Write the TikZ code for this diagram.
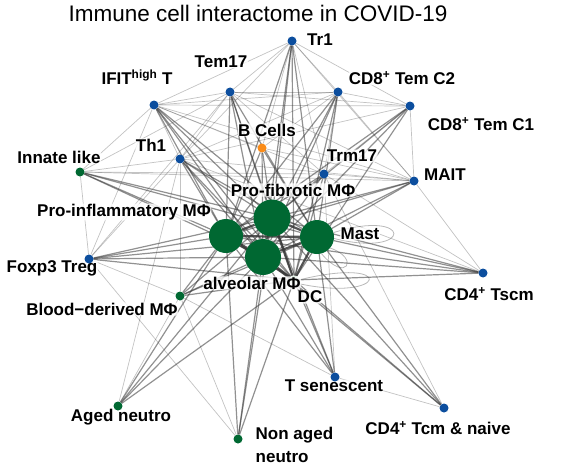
\documentclass[tikz,border=0pt]{standalone}
\usepackage{fontspec}
\setmainfont{Liberation Sans}
\usetikzlibrary{positioning, backgrounds}
\definecolor{nblue}{RGB}{12, 78, 158}
\definecolor{ngreen}{RGB}{0, 104, 50}
\definecolor{norange}{RGB}{250, 140, 25}
\definecolor{nfaint}{RGB}{200, 226, 205}
\definecolor{clink}{RGB}{55, 55, 55}
\tikzset{
  cell/.style={circle, inner sep=0pt, minimum size=9pt, fill=nblue},
  hub/.style={circle, inner sep=0pt, minimum size=34pt, fill=ngreen},
  lbl/.style={font=\bfseries\fontsize{17}{19}\selectfont, fill=white, fill opacity=.8,
              text opacity=1, inner sep=.5pt, rounded corners=3pt},
  strong/.style={draw=clink, line width=2.2pt, opacity=.85},
  mid/.style={draw=clink, line width=1.2pt, opacity=.55},
  weak/.style={draw=clink, line width=.7pt, opacity=.3},
  selfl/.style={draw=clink, line width=.8pt, opacity=.35},
}
\begin{document}
\begin{tikzpicture}[x=1pt, y=-1pt]
\useasboundingbox (0,0) rectangle (561,468);

\node[font=\fontsize{22.5}{24}\selectfont] (title) at (258,13) {Immune cell interactome in COVID-19};

% DC sits behind the labels
\node[cell, fill=nfaint] (dc) at (294,280) {};

% ---------- labels (under the dots) ----------
\node[lbl] (tri-l) at (320,40) {Tr1};
\node[lbl] (temsvt-l) at (221,62) {Tem17};
\node[lbl] (ifit-l) at (137,77) {IFIT\textsuperscript{high} T};
\node[lbl] (cdtwo-l) at (402,78) {CD8\textsuperscript{+} Tem C2};
\node[lbl] (cdone-l) at (481,124) {CD8\textsuperscript{+} Tem C1};
\node[lbl] (bcell-l) at (267,130) {B Cells};
\node[lbl] (thone-l) at (151,145) {Th1};
\node[lbl] (innate-l) at (59,157) {Innate like};
\node[lbl] (trm-l) at (352,156) {Trm17};
\node[lbl] (mait-l) at (445,175) {MAIT};
\node[lbl] (profib-l) at (293,190) {Pro-fibrotic MΦ};
\node[lbl] (proinf-l) at (124,212) {Pro-inflammatory MΦ};
\node[lbl] (mast-l) at (360,234) {Mast};
\node[lbl] (foxp-l) at (52,268) {Foxp3 Treg};
\node[lbl] (alv-l) at (252,283) {alveolar MΦ};
\node[lbl] (dc-l) at (310,297) {DC};
\node[lbl] (blood-l) at (102,309) {Blood\textminus derived MΦ};
\node[lbl] (tscm-l) at (489,294) {CD4\textsuperscript{+} Tscm};
\node[lbl] (tsen-l) at (334,386) {T senescent};
\node[lbl] (aged-l) at (121,417) {Aged neutro};
\node[lbl, align=left, anchor=west, font=\bfseries\fontsize{17}{23}\selectfont] (nonaged-l) at (255,445) {Non aged\\neutro};
\node[lbl] (tcm-l) at (438,428) {CD4\textsuperscript{+} Tcm \& naive};

% ---------- cells ----------
\node[cell] (tri) at (292,41) {};
\node[cell] (temsvt) at (230,92) {};
\node[cell] (ifit) at (154,105) {};
\node[cell] (cdtwo) at (338,92) {};
\node[cell] (cdone) at (410,106) {};
\node[cell, fill=norange] (bcell) at (262,148) {};
\node[cell] (thone) at (180,159) {};
\node[cell, fill=ngreen] (innate) at (80,172) {};
\node[cell] (trm) at (324,174) {};
\node[cell] (mait) at (414,181) {};
\node[cell] (foxp) at (89,259) {};
\node[cell, fill=ngreen] (blood) at (180,296) {};
\node[cell] (tscm) at (483,273) {};
\node[cell] (tsen) at (335,377) {};
\node[cell] (tcm) at (444,408) {};
\node[cell, fill=ngreen] (aged) at (118,406) {};
\node[cell, fill=ngreen] (nonaged) at (238,439) {};

% ---------- macrophage hubs ----------
\node[hub, minimum size=37pt] (profib) at (272,218) {};
\node[hub] (proinf) at (226,236) {};
\node[hub] (mast) at (317,237) {};
\node[hub, minimum size=36pt] (alv) at (263,257) {};

% ---------- interactions ----------
\begin{scope}[on background layer]
  \foreach \a/\b in {tri/ifit, tri/temsvt, tri/cdtwo, tri/cdone, tri/trm, tri/mait, tri/bcell, tri/thone,
      temsvt/ifit, temsvt/cdtwo, temsvt/cdone, temsvt/mait, temsvt/thone, temsvt/trm,
      ifit/cdtwo, ifit/cdone, ifit/thone, ifit/innate, ifit/foxp, ifit/trm, ifit/mait, ifit/bcell,
      cdtwo/cdone, cdtwo/mait, cdtwo/trm, cdtwo/thone, cdtwo/bcell, cdone/mait, cdone/trm, cdone/thone,
      mait/trm, mait/tscm, mait/thone, mait/bcell, innate/thone, innate/foxp, innate/temsvt, innate/trm,
      innate/mait, foxp/thone, foxp/blood, foxp/temsvt, blood/tsen, blood/aged, blood/nonaged, blood/thone,
      tsen/tcm, tsen/trm, tcm/trm, tscm/trm, tscm/thone, nonaged/foxp, aged/thone}
    \draw[weak] (\a) -- (\b);
  \foreach \a/\b in {ifit/profib, ifit/proinf, ifit/alv, ifit/mast, ifit/dc,
      temsvt/profib, temsvt/alv, temsvt/mast, temsvt/dc, temsvt/proinf,
      thone/profib, thone/alv, thone/mast, thone/proinf, thone/dc,
      tri/profib, tri/alv, tri/mast, tri/proinf, tri/dc,
      cdtwo/profib, cdtwo/proinf, cdtwo/alv, cdtwo/dc, cdtwo/mast,
      cdone/profib, cdone/proinf, cdone/alv, cdone/dc,
      mait/profib, mait/proinf, mait/alv, mait/mast,
      trm/profib, trm/proinf, trm/alv, trm/dc,
      bcell/profib, bcell/alv, bcell/mast, bcell/proinf,
      innate/profib, innate/proinf, innate/alv, innate/mast,
      foxp/proinf, foxp/alv, foxp/profib, foxp/mast, foxp/dc,
      tsen/alv, tsen/mast, tsen/dc, tsen/profib, tsen/proinf,
      tcm/mast, tcm/alv, tcm/dc, tcm/profib,
      tscm/mast, tscm/profib, tscm/dc, tscm/alv, tscm/proinf,
      aged/alv, aged/proinf, aged/profib, aged/dc,
      nonaged/alv, nonaged/profib, nonaged/dc, nonaged/proinf,
      blood/alv, blood/proinf, blood/profib, blood/dc, blood/mast}
    \draw[mid] (\a) -- (\b);
  \foreach \a/\b in {profib/proinf, profib/mast, profib/alv, proinf/alv, alv/mast, proinf/mast,
      dc/alv, dc/mast, dc/profib, dc/proinf}
    \draw[strong] (\a) -- (\b);
  % self interactions
  \draw[selfl] (mast.15) .. controls +(80,-25) and +(80,20) .. (mast.-5);
  \draw[selfl] (mast.-40) .. controls +(30,10) and +(25,30) .. (mast.-75);
  \draw[selfl] (dc.east) .. controls +(100,-25) and +(90,20) .. (dc.south east);
\end{scope}

\end{tikzpicture}
\end{document}
